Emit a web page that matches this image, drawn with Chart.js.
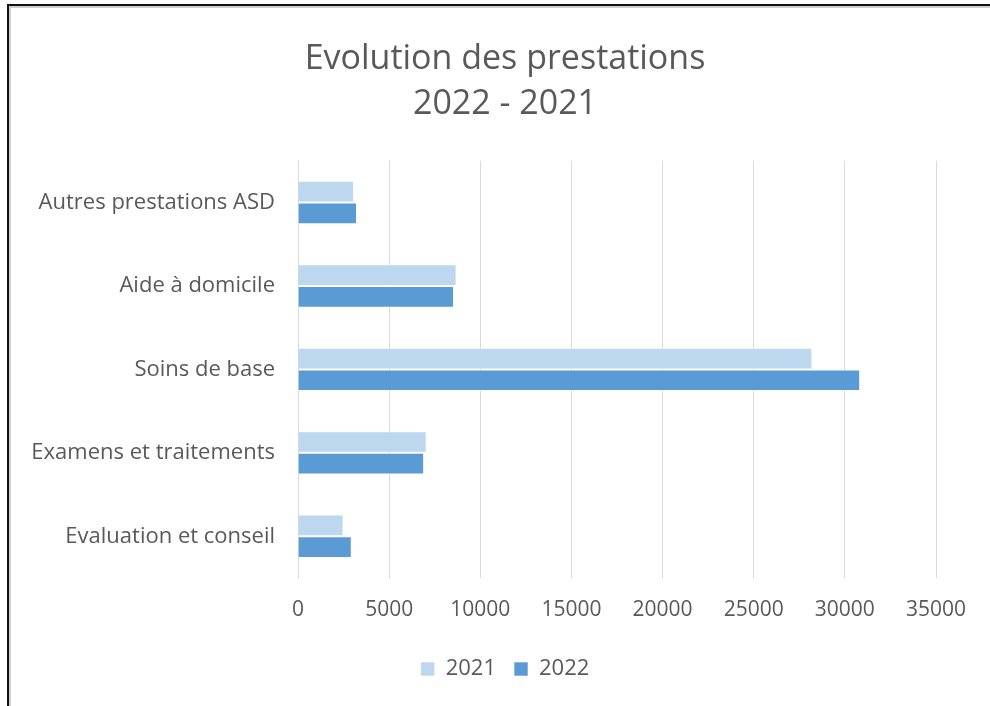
<!DOCTYPE html>
<html>
<head>
<meta charset="utf-8">
<script src="https://cdn.jsdelivr.net/npm/chart.js@4"></script>
<style>
    html, body { margin: 0; padding: 0; background: #fff; overflow: hidden; }
    body { width: 990px; height: 706px; position: relative; }
    #frame {
        position: absolute; left: 7px; top: 4px;
        width: 1010px; height: 730px;
        border: 2px solid #111;
        box-shadow: inset 2px 2px 0 #d0d0d0;
    }
    #wrap { position: absolute; left: 0; top: 0; width: 990px; height: 706px; }
</style>
</head>
<body>
<div id="frame"></div>
<div id="wrap"><canvas id="chart"></canvas></div>
<script>
    // ---- Data ----
    const categories = [
        "Autres prestations ASD",
        "Aide à domicile",
        "Soins de base",
        "Examens et traitements",
        "Evaluation et conseil",
    ];
    const values2021 = [3080, 8700, 28220, 7060, 2500];
    const values2022 = [3240, 8560, 30840, 6920, 2950];
    const xTicks = [0, 5000, 10000, 15000, 20000, 25000, 30000, 35000];

    const COLORS = {
        light: "#BDD7EE",
        dark:  "#5B9BD5",
        grid:  "#D9D9D9",
        text:  "#595959",
    };
    const FONT = "'Open Sans', sans-serif";

    // plot area edges in the reference: left 298, right 936 (canvas 990 wide)
    const PAD_L = 20;

    new Chart(document.getElementById("chart"), {
        type: "bar",
        data: {
            labels: categories,
            datasets: [
                { label: "2021", data: values2021, backgroundColor: COLORS.light,
                  borderColor: "rgba(255,255,255,0.6)", borderWidth: 1 },
                { label: "2022", data: values2022, backgroundColor: COLORS.dark,
                  borderColor: "rgba(255,255,255,0.6)", borderWidth: 1 },
            ],
        },
        options: {
            indexAxis: "y",
            responsive: true,
            maintainAspectRatio: false,
            animation: false,
            layout: { padding: { top: 10, right: 0, bottom: 16, left: PAD_L } },
            datasets: { bar: { barPercentage: 1, categoryPercentage: 0.52 } },
            plugins: {
                title: {
                    display: true,
                    text: ["Evolution des prestations", "2022 - 2021"],
                    color: COLORS.text,
                    font: { family: FONT, size: 34, weight: "normal", lineHeight: 1.32 },
                    padding: { top: 27, bottom: 34 },
                },
                legend: {
                    position: "bottom",
                    labels: {
                        color: COLORS.text,
                        boxWidth: 14, boxHeight: 14,
                        padding: 18,
                        font: { family: FONT, size: 22 },
                    },
                },
                tooltip: { enabled: false },
            },
            scales: {
                x: {
                    min: 0, max: 35000,
                    afterBuildTicks: (axis) => { axis.ticks = xTicks.map(v => ({ value: v })); },
                    grid: { color: COLORS.grid, drawTicks: false },
                    border: { display: false },
                    ticks: {
                        color: COLORS.text, padding: 19,
                        font: { family: FONT, size: 21 },
                        callback: (v) => String(v),
                    },
                    afterFit: (axis) => { axis.height = 62; axis.paddingRight = 54; },
                },
                y: {
                    grid: { display: false, drawTicks: false },
                    border: { display: false },
                    ticks: { color: COLORS.text, padding: 23, font: { family: FONT, size: 22 } },
                    afterFit: (axis) => { axis.width = 298 - PAD_L; },
                },
            },
        },
    });
</script>
</body>
</html>
